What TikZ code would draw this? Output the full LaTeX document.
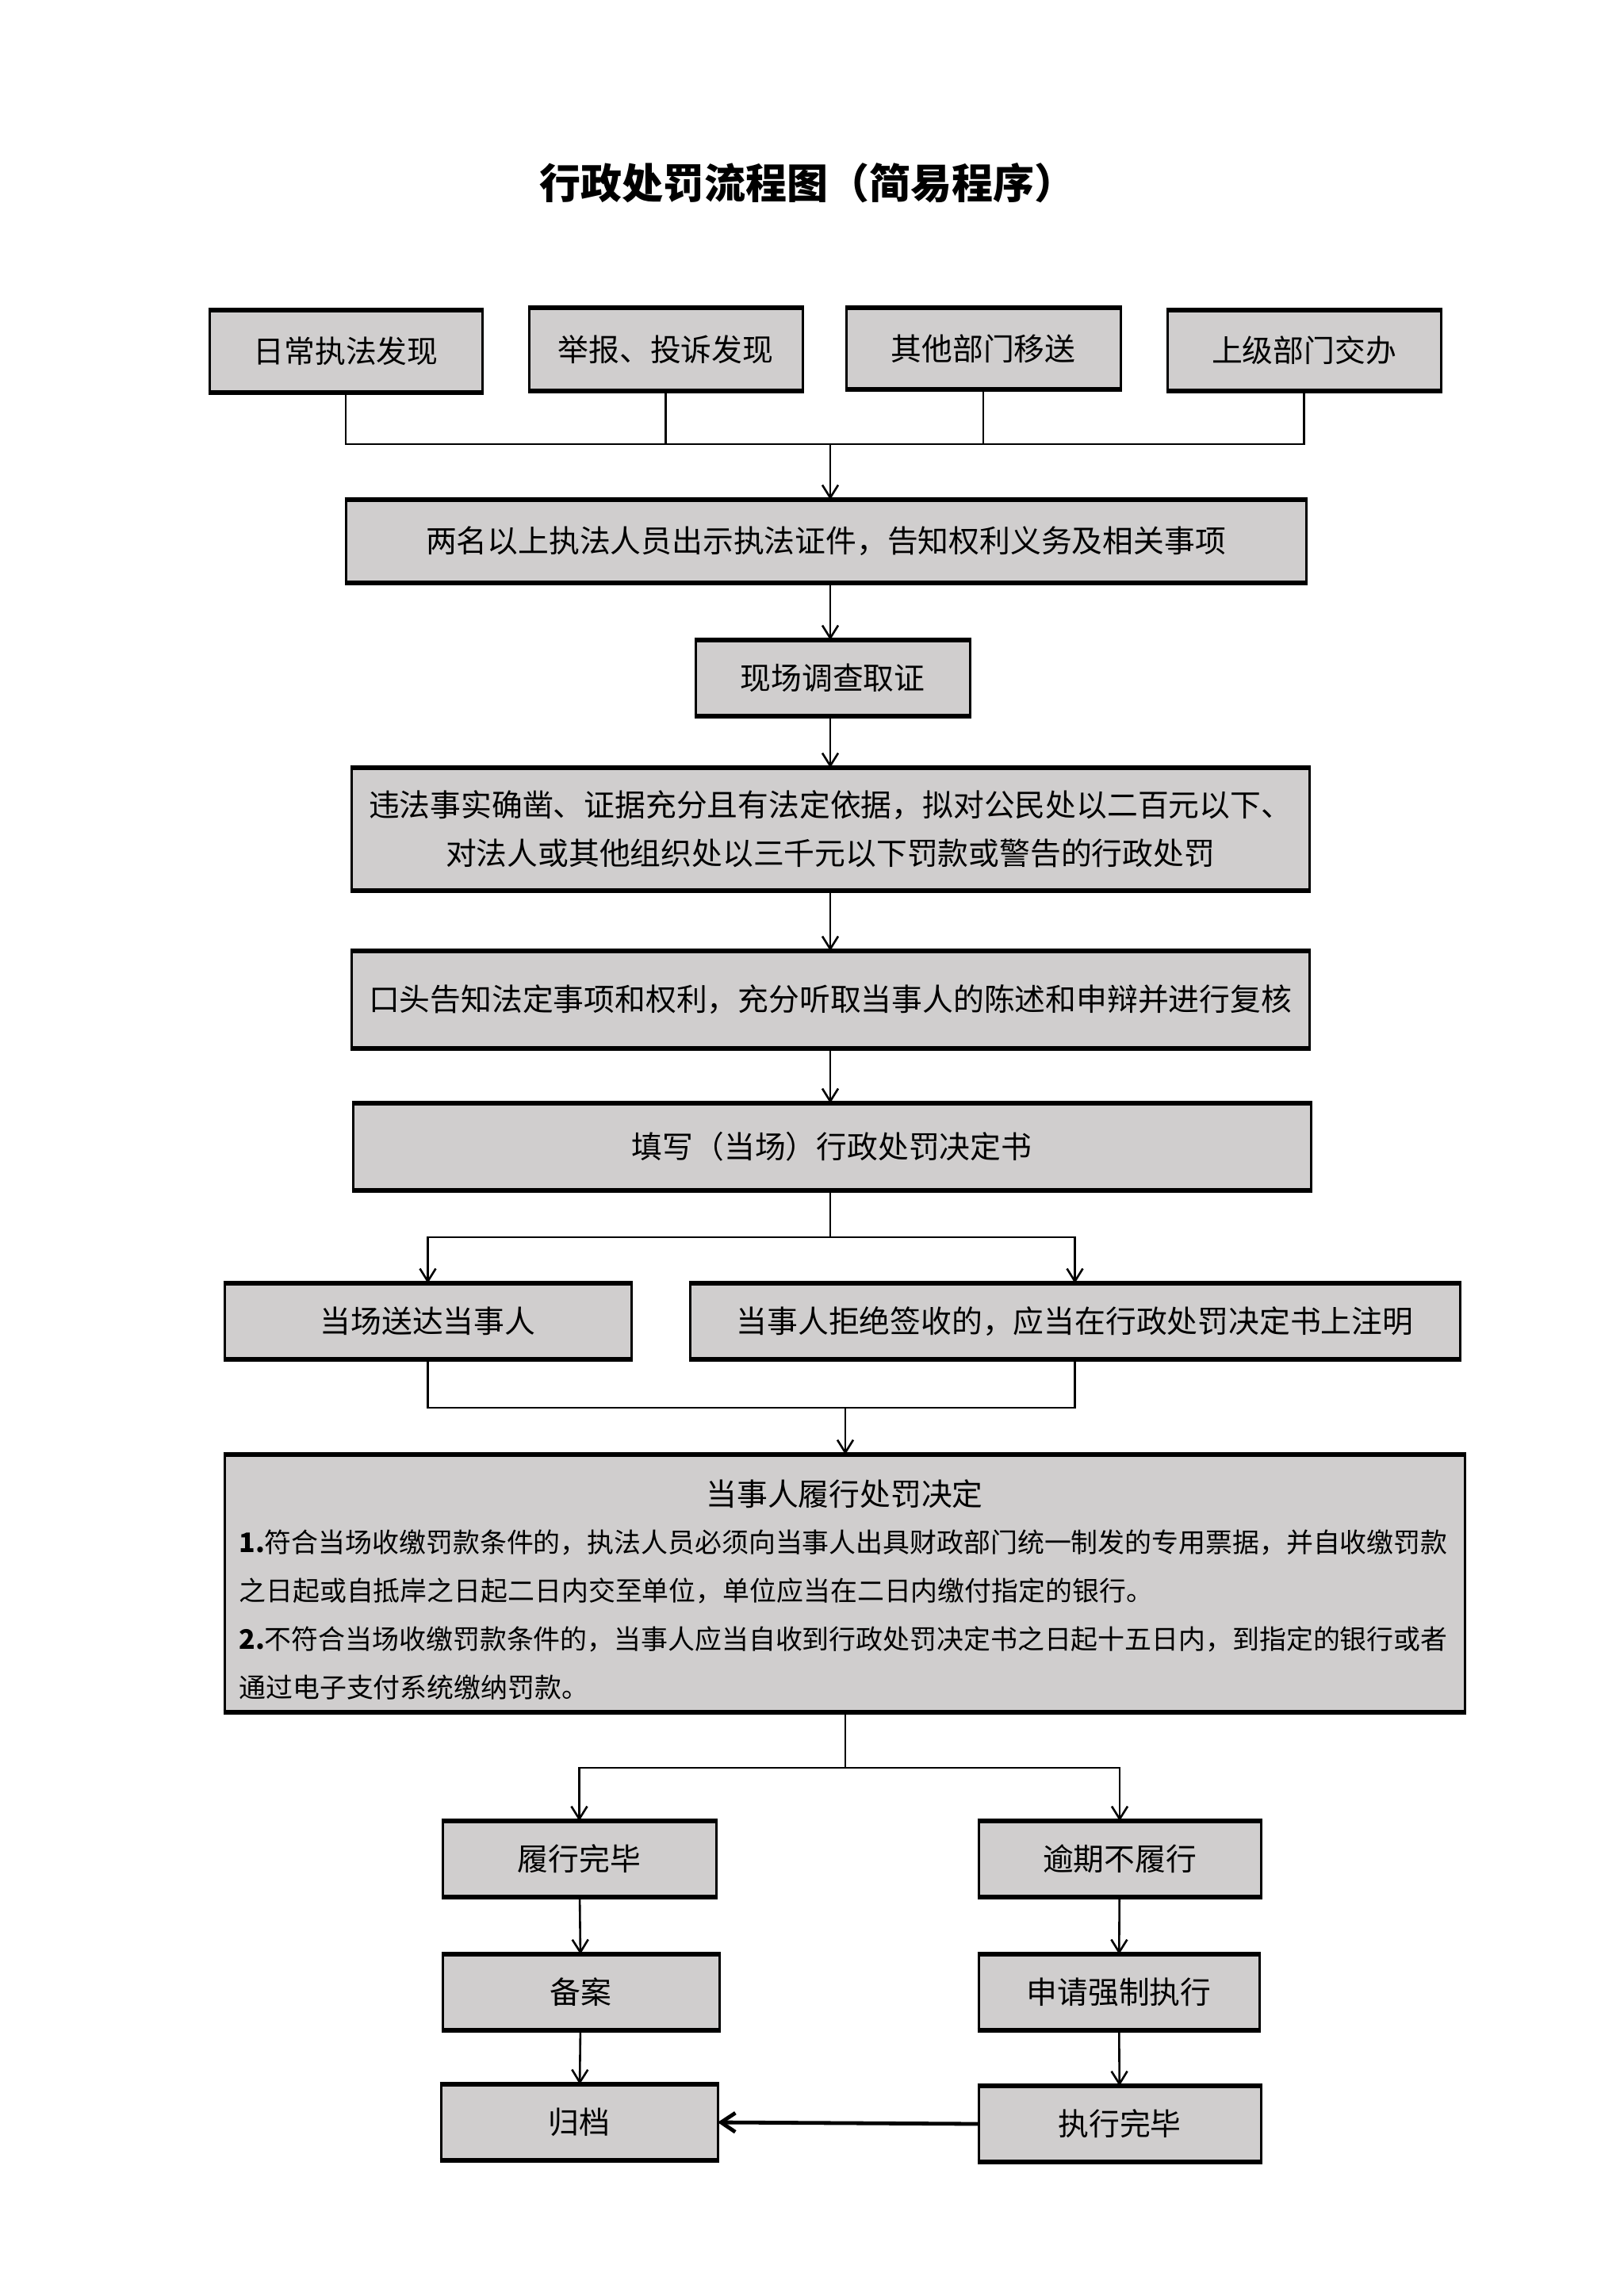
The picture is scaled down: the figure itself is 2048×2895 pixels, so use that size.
\documentclass[tikz,border=0pt]{standalone}
\usepackage{fontspec}
\setmainfont{Noto Sans CJK SC}
\usetikzlibrary{arrows.meta}
\definecolor{boxgray}{RGB}{208,206,206}
\newcommand\bx[6]{\node[box, minimum width={(#4-#2)*0.5pt}, minimum height={(#5-#3)*0.5pt}] (#1) at ({(#2+#4)/2},{(#3+#5)/2}) {#6};}
\begin{document}
\begin{tikzpicture}[x=0.5pt,y=-0.5pt,
  box/.style={draw=black, fill=boxgray, line width=1.5pt, rectangle, inner sep=0pt, outer sep=0pt, align=center, font=\fontsize{19.4pt}{30.5pt}\selectfont},
  edge/.style={line width=3pt, shorten <=-0.75pt, shorten >=-0.75pt},
  link/.style={line width=1.3pt},
  arr/.style={line width=1.3pt, -{Straight Barb[length=8pt,width=10pt]}},
  thickarr/.style={line width=2.4pt, -{Straight Barb[length=9pt,width=12pt]}}]
\useasboundingbox (0,0) rectangle (2048,2895);

\node (title) at (1018,231) {\fontsize{26pt}{30pt}\selectfont\bfseries 行政处罚流程图（简易程序）};

\bx{b1}{264}{391}{608}{495}{日常执法发现}
\bx{b2}{667}{388}{1012}{493}{举报、投诉发现}
\bx{b3}{1067}{388}{1413}{491}{其他部门移送}
\bx{b4}{1472}{391}{1817}{493}{上级部门交办}
\bx{s2}{436}{630}{1647}{735}{两名以上执法人员出示执法证件，告知权利义务及相关事项}
\bx{s3}{877}{807}{1223}{903}{现场调查取证}
\bx{s4}{443}{968}{1651}{1123}{违法事实确凿、证据充分且有法定依据，拟对公民处以二百元以下、\\对法人或其他组织处以三千元以下罚款或警告的行政处罚}
\bx{s5}{443}{1199}{1651}{1322}{口头告知法定事项和权利，充分听取当事人的陈述和申辩并进行复核}
\bx{s6}{445}{1391}{1653}{1501}{填写（当场）行政处罚决定书}
\bx{s7a}{283}{1618}{796}{1714}{当场送达当事人}
\bx{s7b}{870}{1618}{1841}{1714}{当事人拒绝签收的，应当在行政处罚决定书上注明}
\bx{s8}{283}{1834}{1847}{2159}{}
\node[font=\fontsize{19.4pt}{30pt}\selectfont] (s8t) at (1065,1884) {当事人履行处罚决定};
\node[anchor=west, align=left, inner sep=0pt, font=\fontsize{16.95pt}{30.5pt}\selectfont] (s8b) at (301,2036)
 {\textbf{1.}符合当场收缴罚款条件的，执法人员必须向当事人出具财政部门统一制发的专用票据，并自收缴罚款\\
  之日起或自抵岸之日起二日内交至单位，单位应当在二日内缴付指定的银行。\\
  \textbf{2.}不符合当场收缴罚款条件的，当事人应当自收到行政处罚决定书之日起十五日内，到指定的银行或者\\
  通过电子支付系统缴纳罚款。};
\bx{s9a}{558}{2296}{903}{2392}{履行完毕}
\bx{s9b}{1234}{2296}{1590}{2392}{逾期不履行}
\bx{s10a}{558}{2464}{907}{2560}{备案}
\bx{s10b}{1234}{2464}{1588}{2560}{申请强制执行}
\bx{s11a}{556}{2628}{905}{2724}{归档}
\bx{s11b}{1234}{2630}{1590}{2726}{执行完毕}

\foreach \n in {b1,b2,b3,b4,s2,s3,s4,s5,s6,s7a,s7b,s8,s9a,s9b,s10a,s10b,s11a,s11b}{
  \draw[edge] (\n.north west) -- (\n.north east);
  \draw[edge] (\n.south west) -- (\n.south east);
}

% top bus
\coordinate (bus) at (1047,560);
\draw[link] (b1.south) -- (b1.south |- bus) -- (b4.south |- bus) -- (b4.south);
\draw[link] (b2.south) -- (b2.south |- bus);
\draw[link] (b3.south) -- (b3.south |- bus);
\draw[arr] (bus) -- (bus |- s2.north);

\draw[arr] (s2.south -| bus) -- (s3.north -| bus);
\draw[arr] (s3.south -| bus) -- (s4.north -| bus);
\draw[arr] (s4.south -| bus) -- (s5.north -| bus);
\draw[arr] (s5.south -| bus) -- (s6.north -| bus);

% split 1
\coordinate (sp1) at (1047,1560);
\draw[link] (s6.south -| sp1) -- (sp1);
\draw[arr] (sp1) -| (s7a.north);
\draw[arr] (sp1) -| (s7b.north);

% merge
\coordinate (mg) at (1066,1775);
\draw[link] (s7a.south) |- (mg);
\draw[link] (s7b.south) |- (mg);
\draw[arr] (mg) -- (mg |- s8.north);

% split 2
\coordinate (sp2) at (1066,2229);
\draw[link] (s8.south -| sp2) -- (sp2);
\draw[arr] (sp2) -| (s9a.north);
\draw[arr] (sp2) -| (s9b.north);

\draw[arr] (s9a) -- (s10a);
\draw[arr] (s10a) -- (s11a);
\draw[arr] (s9b) -- (s10b);
\draw[arr] (s10b) -- (s11b);
\draw[thickarr] (s11b.west) -- (s11a.east);
\end{tikzpicture}
\end{document}
